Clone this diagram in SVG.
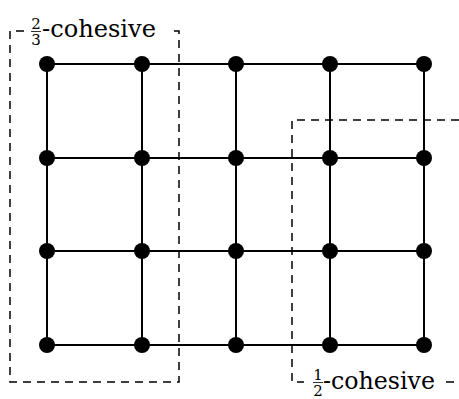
<svg xmlns="http://www.w3.org/2000/svg" width="459" height="399" viewBox="0 0 459 399">
<style>
.e{stroke:#000;stroke-width:2;fill:none}
.d{stroke:#000;stroke-width:1.5;fill:none;stroke-dasharray:8 6}
.n{fill:#000}
.l{stroke:#000;stroke-width:0.8}
</style>
<rect width="459" height="399" fill="#fff"/>
<g id="connectors">
<path class="e" d="M47 64H424M47 158H424M47 251H424M47 345H424M47 64V345M142 64V345M236 64V345M330 64V345M424 64V345"/>
</g>
<g id="nodes">
<circle class="n" cx="47" cy="64" r="8"/><circle class="n" cx="142" cy="64" r="8"/><circle class="n" cx="236" cy="64" r="8"/><circle class="n" cx="330" cy="64" r="8"/><circle class="n" cx="424" cy="64" r="8"/>
<circle class="n" cx="47" cy="158" r="8"/><circle class="n" cx="142" cy="158" r="8"/><circle class="n" cx="236" cy="158" r="8"/><circle class="n" cx="330" cy="158" r="8"/><circle class="n" cx="424" cy="158" r="8"/>
<circle class="n" cx="47" cy="251" r="8"/><circle class="n" cx="142" cy="251" r="8"/><circle class="n" cx="236" cy="251" r="8"/><circle class="n" cx="330" cy="251" r="8"/><circle class="n" cx="424" cy="251" r="8"/>
<circle class="n" cx="47" cy="345" r="8"/><circle class="n" cx="142" cy="345" r="8"/><circle class="n" cx="236" cy="345" r="8"/><circle class="n" cx="330" cy="345" r="8"/><circle class="n" cx="424" cy="345" r="8"/>
</g>
<g id="box-two-thirds" font-family="DejaVu Serif, Liberation Serif, serif" fill="#000">
<path class="d" d="M24 31H10V382H179V31H168"/>
<text x="36" y="29" font-size="15" text-anchor="middle">2</text>
<line class="l" x1="31" y1="31.5" x2="41" y2="31.5"/>
<text x="36" y="45" font-size="15" text-anchor="middle">3</text>
<text x="42" y="37" font-size="24" textLength="114" lengthAdjust="spacingAndGlyphs">-cohesive</text>
</g>
<g id="box-one-half" font-family="DejaVu Serif, Liberation Serif, serif" fill="#000">
<path class="d" d="M459 120H292V382H304"/>
<path class="d" d="M446 382H459"/>
<text x="318" y="380" font-size="15" text-anchor="middle">1</text>
<line class="l" x1="313" y1="382.5" x2="323" y2="382.5"/>
<text x="318" y="396" font-size="15" text-anchor="middle">2</text>
<text x="323" y="389" font-size="24" textLength="112" lengthAdjust="spacingAndGlyphs">-cohesive</text>
</g>
</svg>
